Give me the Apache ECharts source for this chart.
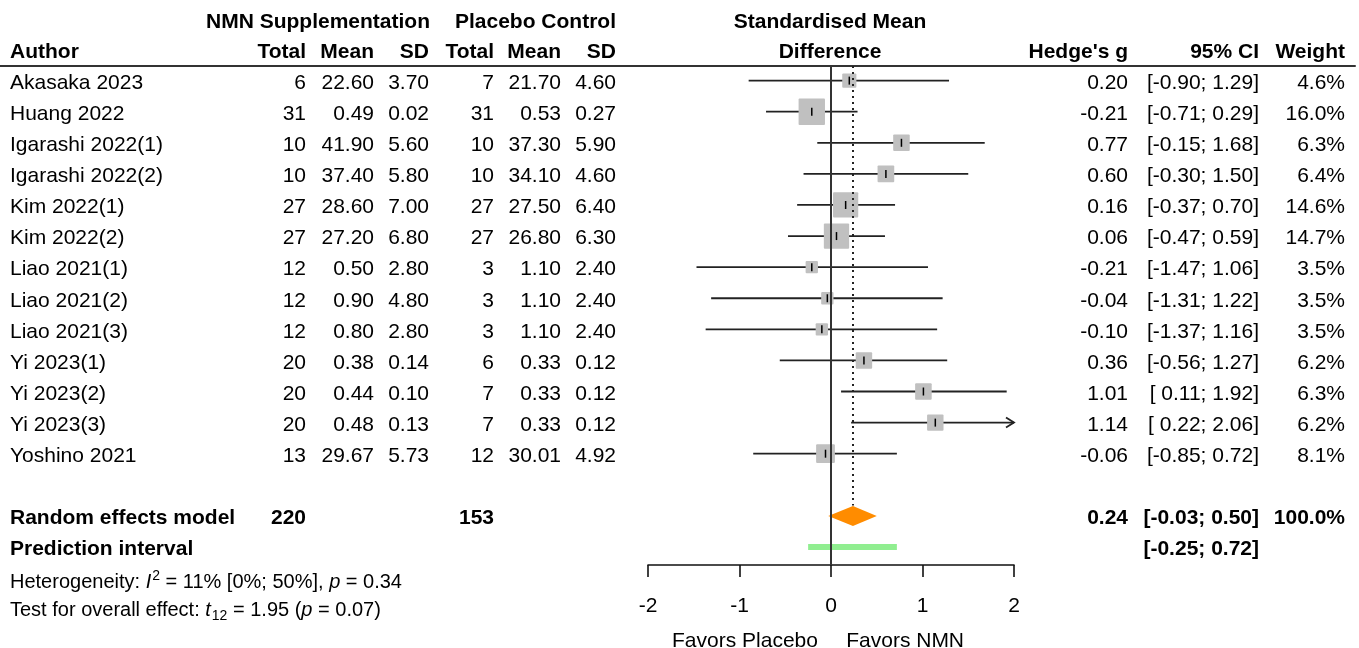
<!DOCTYPE html>
<html>
<head>
<meta charset="utf-8">
<script src="https://cdn.jsdelivr.net/npm/echarts@6/dist/echarts.min.js"></script>
<style>
  html, body { margin: 0; padding: 0; background: #fff; }
  #forest { width: 1359px; height: 648px; }
</style>
</head>
<body>
<div id="forest"></div>
<script>
// study data
var authors = ["Akasaka 2023", "Huang 2022", "Igarashi 2022(1)", "Igarashi 2022(2)", "Kim 2022(1)", "Kim 2022(2)",
  "Liao 2021(1)", "Liao 2021(2)", "Liao 2021(3)", "Yi 2023(1)", "Yi 2023(2)", "Yi 2023(3)", "Yoshino 2021"];
var nmnTotal = [6, 31, 10, 10, 27, 27, 12, 12, 12, 20, 20, 20, 13];
var nmnMean = [22.60, 0.49, 41.90, 37.40, 28.60, 27.20, 0.50, 0.90, 0.80, 0.38, 0.44, 0.48, 29.67];
var nmnSD = [3.70, 0.02, 5.60, 5.80, 7.00, 6.80, 2.80, 4.80, 2.80, 0.14, 0.10, 0.13, 5.73];
var plTotal = [7, 31, 10, 10, 27, 27, 3, 3, 3, 6, 7, 7, 12];
var plMean = [21.70, 0.53, 37.30, 34.10, 27.50, 26.80, 1.10, 1.10, 1.10, 0.33, 0.33, 0.33, 30.01];
var plSD = [4.60, 0.27, 5.90, 4.60, 6.40, 6.30, 2.40, 2.40, 2.40, 0.12, 0.12, 0.12, 4.92];
var hedgeG = [0.20, -0.21, 0.77, 0.60, 0.16, 0.06, -0.21, -0.04, -0.10, 0.36, 1.01, 1.14, -0.06];
var ciLow = [-0.90, -0.71, -0.15, -0.30, -0.37, -0.47, -1.47, -1.31, -1.37, -0.56, 0.11, 0.22, -0.85];
var ciHigh = [1.29, 0.29, 1.68, 1.50, 0.70, 0.59, 1.06, 1.22, 1.16, 1.27, 1.92, 2.06, 0.72];
var weights = [4.6, 16.0, 6.3, 6.4, 14.6, 14.7, 3.5, 3.5, 3.5, 6.2, 6.3, 6.2, 8.1];

// pooled results
var pooled = { g: 0.24, lo: -0.03, hi: 0.50, nmnN: 220, plN: 153, weight: 100.0 };
var predInt = [-0.25, 0.72];
var footLines = [
  "Heterogeneity: {i|I}{sup|2} = 11% [0%; 50%], {i|p} = 0.34",
  "Test for overall effect: {i|t}{sub|12} = 1.95 ({i|p} = 0.07)"
];
var favorLabels = ["Favors Placebo", "Favors NMN"];

var FONT = "'Liberation Sans', Arial, sans-serif";
var nStudy = authors.length;
var rowRE = nStudy + 1;
var rowPI = nStudy + 2;
var TXT_DY = 2.5;

function f2(v) { return v.toFixed(2); }
function ci(lo, hi) {
  var a = f2(lo); if (lo >= 0) a = " " + a;
  return "[" + a + "; " + f2(hi) + "]";
}

// table cells: [x, row, text, align, bold]
var cells = [];
function cell(x, row, text, align, bold) {
  cells.push([x, row, String(text), align || "right", bold ? 1 : 0]);
}
// headers
cell(430, -1.97, "NMN Supplementation", "right", true);
cell(616, -1.97, "Placebo Control", "right", true);
cell(830, -1.97, "Standardised Mean", "center", true);
cell(10, -0.98, "Author", "left", true);
cell(306, -0.98, "Total", "right", true);
cell(374, -0.98, "Mean", "right", true);
cell(429, -0.98, "SD", "right", true);
cell(494, -0.98, "Total", "right", true);
cell(561, -0.98, "Mean", "right", true);
cell(616, -0.98, "SD", "right", true);
cell(830, -0.98, "Difference", "center", true);
cell(1128, -0.98, "Hedge's g", "right", true);
cell(1259, -0.98, "95% CI", "right", true);
cell(1345, -0.98, "Weight", "right", true);
for (var i = 0; i < nStudy; i++) {
  cell(10, i, authors[i], "left");
  cell(306, i, nmnTotal[i]);
  cell(374, i, f2(nmnMean[i]));
  cell(429, i, f2(nmnSD[i]));
  cell(494, i, plTotal[i]);
  cell(561, i, f2(plMean[i]));
  cell(616, i, f2(plSD[i]));
  cell(1128, i, f2(hedgeG[i]));
  cell(1259, i, ci(ciLow[i], ciHigh[i]));
  cell(1345, i, weights[i].toFixed(1) + "%");
}
cell(10, rowRE, "Random effects model", "left", true);
cell(306, rowRE, pooled.nmnN, "right", true);
cell(494, rowRE, pooled.plN, "right", true);
cell(1128, rowRE, f2(pooled.g), "right", true);
cell(1259, rowRE, ci(pooled.lo, pooled.hi), "right", true);
cell(1345, rowRE, pooled.weight.toFixed(1) + "%", "right", true);
cell(10, rowPI, "Prediction interval", "left", true);
cell(1259, rowPI, ci(predInt[0], predInt[1]), "right", true);

var chart = echarts.init(document.getElementById("forest"));

var yAxisCommon = { type: "value", inverse: true, min: -0.47, max: 15.58, show: false };

var option = {
  animation: false,
  backgroundColor: "#fff",
  grid: [
    { left: 0, right: 4, top: 66, height: 499 },
    { left: 648, width: 366, top: 66, height: 499 }
  ],
  xAxis: [
    {
      gridIndex: 0, type: "value", min: 0, max: 1355, position: "top",
      axisLine: { show: true, onZero: false, lineStyle: { color: "#333", width: 2 } },
      axisTick: { show: false }, axisLabel: { show: false }, splitLine: { show: false }
    },
    {
      gridIndex: 1, type: "value", min: -2, max: 2, interval: 1, position: "bottom",
      axisLine: { show: true, onZero: false, lineStyle: { color: "#111", width: 1.6 } },
      axisTick: { show: true, length: 12, lineStyle: { color: "#111", width: 1.6 } },
      axisLabel: { color: "#000", fontSize: 21, fontFamily: FONT, margin: 31 },
      splitLine: { show: false }
    }
  ],
  yAxis: [
    Object.assign({ gridIndex: 0 }, yAxisCommon),
    Object.assign({ gridIndex: 1 }, yAxisCommon)
  ],
  series: [
    {
      // table text
      type: "custom", xAxisIndex: 0, yAxisIndex: 0, clip: false, silent: true,
      data: cells,
      renderItem: function (params, api) {
        var d = cells[params.dataIndex];
        var p = api.coord([d[0], d[1]]);
        return {
          type: "text",
          x: p[0], y: p[1] + TXT_DY,
          style: {
            text: d[2], fill: "#000", align: d[3], verticalAlign: "middle",
            font: (d[4] ? "bold " : "") + "21px " + FONT
          }
        };
      }
    },
    {
      // footer statistics with super/subscripts
      type: "custom", xAxisIndex: 0, yAxisIndex: 0, clip: false, silent: true,
      data: [[10, 16.05], [10, 16.95]],
      renderItem: function (params, api) {
        var p = api.coord([api.value(0), api.value(1)]);
        return {
          type: "text", x: p[0], y: p[1] + TXT_DY,
          style: {
            text: footLines[params.dataIndex], fill: "#000", align: "left", verticalAlign: "middle",
            font: "20px " + FONT,
            rich: {
              i: { fontStyle: "italic", fontSize: 20, fontFamily: FONT },
              sup: { fontSize: 14, fontFamily: FONT, padding: [0, 0, 12, 1] },
              sub: { fontSize: 14, fontFamily: FONT, padding: [12, 0, 0, 1] }
            }
          }
        };
      }
    },
    {
      // zero line and pooled-estimate dotted line
      type: "line", xAxisIndex: 1, yAxisIndex: 1, data: [], silent: true,
      markLine: {
        symbol: "none", silent: true, label: { show: false },
        data: [
          { xAxis: 0, lineStyle: { color: "#333", width: 2, type: "solid" } },
          [
            { coord: [pooled.g, -0.47], lineStyle: { color: "#222", width: 2, type: [2, 4] } },
            { coord: [pooled.g, rowRE - 0.33] }
          ]
        ]
      }
    },
    {
      // study CIs, squares and point ticks
      type: "custom", xAxisIndex: 1, yAxisIndex: 1, clip: false, silent: true,
      data: hedgeG.map(function (g, i) { return [g, i, ciLow[i], ciHigh[i], weights[i]]; }),
      renderItem: function (params, api) {
        var g = api.value(0), row = api.value(1), lo = api.value(2), hi = api.value(3), w = api.value(4);
        var c = api.coord([g, row]);
        var pLo = api.coord([Math.max(lo, -2), row]);
        var pHi = api.coord([Math.min(hi, 2), row]);
        var side = 6.6 * Math.sqrt(w);
        var kids = [
          { type: "line", shape: { x1: pLo[0], y1: c[1], x2: pHi[0], y2: c[1] },
            style: { stroke: "#222", lineWidth: 1.8 } },
          { type: "rect", shape: { x: c[0] - side / 2, y: c[1] - side / 2, width: side, height: side, r: 1 },
            style: { fill: "#c0c0c0" } },
          { type: "line", shape: { x1: c[0], y1: c[1] - 4, x2: c[0], y2: c[1] + 4 },
            style: { stroke: "#000", lineWidth: 1.5 } }
        ];
        if (hi > 2) {
          kids.push({ type: "polyline", shape: { points: [[pHi[0] - 8, c[1] - 5], [pHi[0], c[1]], [pHi[0] - 8, c[1] + 5]] },
            style: { stroke: "#222", lineWidth: 1.8, fill: null } });
        }
        if (lo < -2) {
          kids.push({ type: "polyline", shape: { points: [[pLo[0] + 8, c[1] - 5], [pLo[0], c[1]], [pLo[0] + 8, c[1] + 5]] },
            style: { stroke: "#222", lineWidth: 1.8, fill: null } });
        }
        return { type: "group", children: kids };
      }
    },
    {
      // pooled diamond and prediction interval
      type: "custom", xAxisIndex: 1, yAxisIndex: 1, clip: false, silent: true,
      data: [[pooled.g, rowRE, pooled.lo, pooled.hi], [0, rowPI, predInt[0], predInt[1]]],
      renderItem: function (params, api) {
        var row = api.value(1);
        if (params.dataIndex === 0) {
          var l = api.coord([api.value(2), row]);
          var m = api.coord([api.value(0), row]);
          var r = api.coord([api.value(3), row]);
          return {
            type: "polygon",
            shape: { points: [[l[0], l[1]], [m[0], m[1] - 10], [r[0], r[1]], [m[0], m[1] + 10]] },
            style: { fill: "#ff8c00" }
          };
        }
        var a = api.coord([api.value(2), row]);
        var b = api.coord([api.value(3), row]);
        return {
          type: "rect", shape: { x: a[0], y: a[1] - 3, width: b[0] - a[0], height: 6 },
          style: { fill: "#90ee90" }
        };
      }
    },
    {
      // favours labels under the axis
      type: "custom", xAxisIndex: 1, yAxisIndex: 1, clip: false, silent: true,
      data: [[-0.94, 17.95], [0.81, 17.95]],
      renderItem: function (params, api) {
        var p = api.coord([api.value(0), api.value(1)]);
        return {
          type: "text", x: p[0], y: p[1] + TXT_DY,
          style: { text: favorLabels[params.dataIndex], fill: "#000", align: "center", verticalAlign: "middle",
            font: "21px " + FONT }
        };
      }
    }
  ]
};

chart.setOption(option);
</script>
</body>
</html>
